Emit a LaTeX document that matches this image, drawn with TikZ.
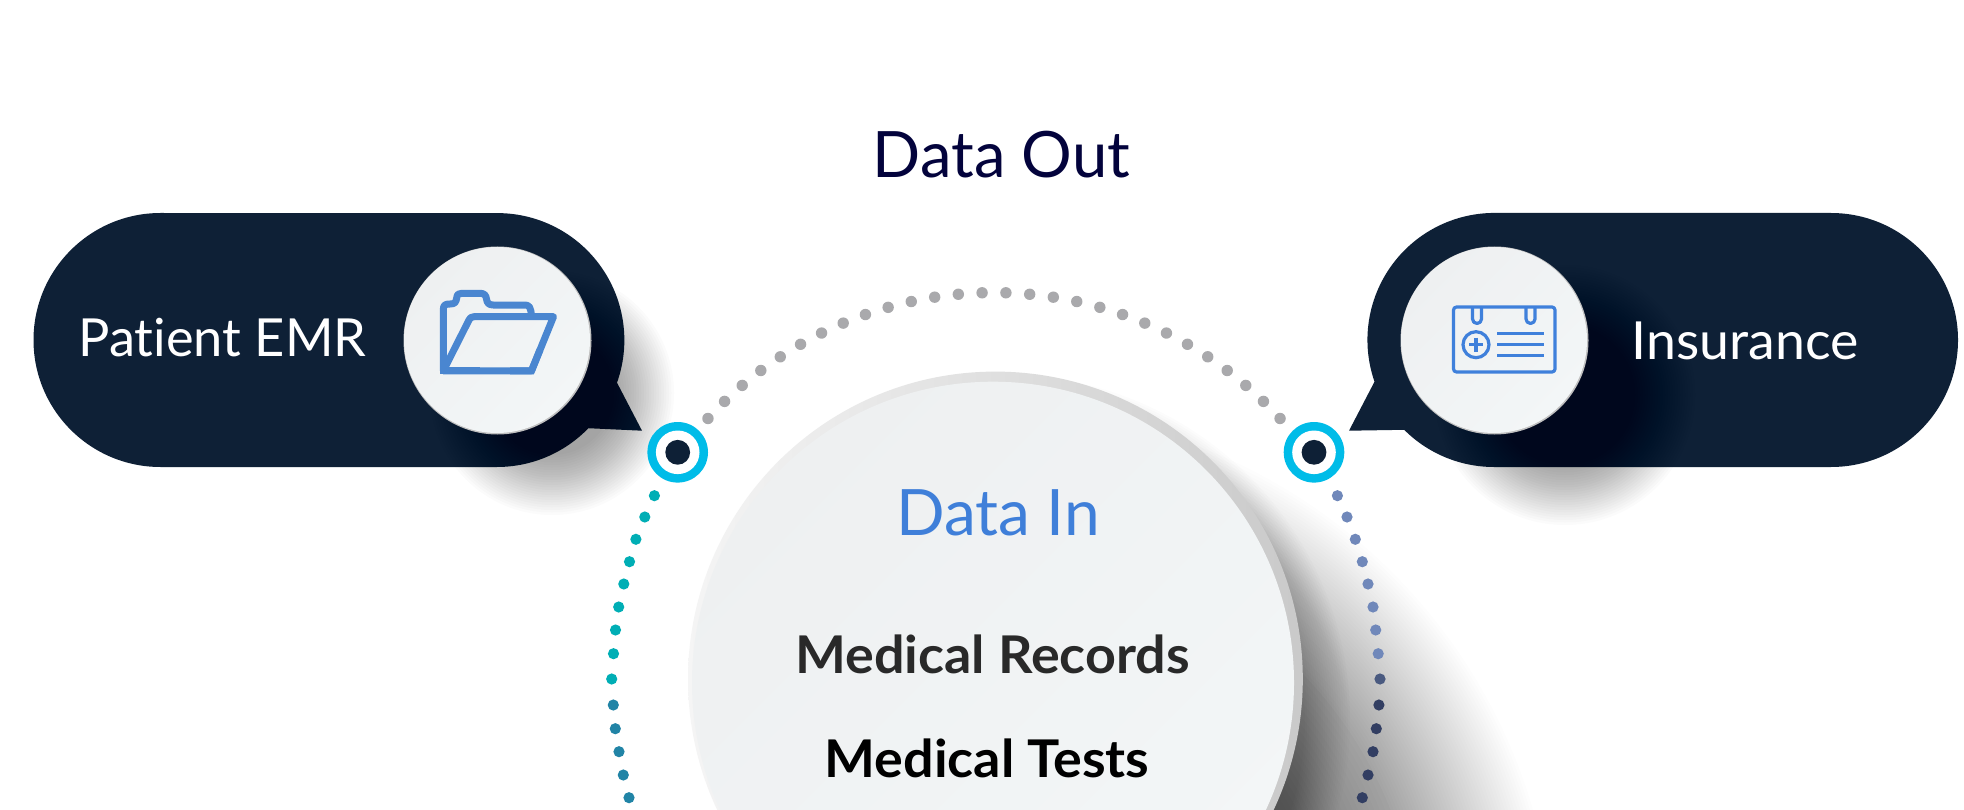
\documentclass[tikz,border=0pt]{standalone}
\usepackage{fontspec}
\setmainfont{Lato}[Ligatures={NoCommon,NoRare}]
\definecolor{navy}{HTML}{0E2036}
\definecolor{outcol}{HTML}{03033C}
\definecolor{incol}{HTML}{3F7FD9}
\definecolor{iconblue}{HTML}{4A86D0}
\definecolor{cardblue}{HTML}{3F80DB}
\definecolor{ringblue}{HTML}{00BCE8}
\definecolor{dotgray}{HTML}{A9A9AC}
\definecolor{tealA}{HTML}{00AEB5}
\definecolor{tealB}{HTML}{2184A6}
\definecolor{slateA}{HTML}{7088BA}
\definecolor{slateM}{HTML}{4A5A80}
\definecolor{slateB}{HTML}{323E62}
\definecolor{faceA}{HTML}{EEF0F1}
\definecolor{faceB}{HTML}{F3F6F7}
\newcommand{\softshadow}[6]{% cx cy Rout Rin steps opacity
  \foreach \k in {0,...,#5}{
    \fill[black,opacity=#6] (#1,#2) circle[radius={(#3-(#3-#4)*\k/#5)*1pt}];
  }}
\tikzset{
  label text/.style={inner sep=0pt,anchor=base,transform shape},
  bubble/.style={fill=navy},
  face/.style={left color=faceA,right color=faceB,shading angle=45},
  dotg/.style={fill=dotgray},
  folder/.style={draw=iconblue,line width=7pt,line join=round},
  card/.style={draw=cardblue,line width=3.2pt,line join=round}
}
\begin{document}
\begin{tikzpicture}[x=1pt,y=-1pt]
\useasboundingbox (0,0) rectangle (1964,810);
\clip (0,0) rectangle (1964,810);
\fill[white] (0,0) rectangle (1964,810);

% big circle shadow
\begin{scope}
\clip (1000,0) rectangle (1964,810);
\softshadow{1000}{965}{555}{420}{45}{0.0095}
\softshadow{1000}{965}{420}{320}{20}{0.011}
\softshadow{1005}{720}{345}{300}{20}{0.011}
\end{scope}

% bubbles
\fill[bubble] (160.5,213) arc[start angle=90,end angle=270,radius=127pt] -- (497,467)
  arc[start angle=270,end angle=316,radius=127pt]
  -- (642,430.7) -- (617,382.7)
  arc[start angle=-19.6,end angle=90,radius=127pt] -- cycle;
\fill[bubble] (1831,213) arc[start angle=90,end angle=-90,radius=127pt] -- (1494,467)
  arc[start angle=270,end angle=225,radius=127pt]
  -- (1349,430.7) -- (1374.5,381.7)
  arc[start angle=199.2,end angle=90,radius=127pt] -- cycle;

% small-circle shadows
\softshadow{552}{393}{122}{62}{24}{0.017}
\softshadow{1565}{395}{130}{70}{24}{0.015}

% small circles
\fill[black!25] (497.5,340.5) circle[radius=94pt];
\shade[face] (497,340) circle[radius=93pt];
\fill[black!25] (1494.5,340.5) circle[radius=94pt];
\shade[face] (1494,340) circle[radius=93pt];

% folder
\draw[folder] (443.3,370.8) -- (443.3,310) .. controls (443.3,305) and (445,304) .. (450,304)
  .. controls (455,304) and (456,302) .. (456.7,298) .. controls (457,294) and (459,293.3) .. (462,293.3)
  -- (480,293.3) .. controls (484,293.3) and (486,295) .. (486.5,299) .. controls (487,303) and (489,305) .. (493,305)
  -- (525,305) .. controls (529,305) and (531,307) .. (531.5,316.7);
\draw[folder] (443.3,370.8) -- (531.5,370.8) -- (553.5,316.7) -- (474,316.7) .. controls (471,316.7) and (470,318) .. (469,320) -- cycle;
\draw[folder,line join=miter] (443.3,350) -- (443.3,370.8) -- (480,370.8);
\draw[folder,line join=miter] (510,370.8) -- (531.5,370.8) -- (540,349.8);

% card
\draw[card,rounded corners=3pt] (1453.5,307) rectangle (1555,372);
\draw[card] (1472.5,307) -- (1472.5,319) arc[start angle=180,end angle=360,radius=4.5pt] -- (1481.5,307);
\draw[card] (1526,307) -- (1526,319) arc[start angle=180,end angle=360,radius=4.5pt] -- (1535,307);
\draw[card] (1476,344.7) circle[radius=13pt];
\draw[card] (1469,344.7) -- (1483,344.7) (1476,337.7) -- (1476,351.7);
\draw[card] (1497,333.7) -- (1544,333.7) (1497,344.7) -- (1544,344.7) (1497,355.7) -- (1544,355.7);

% big circle
\shade[left color=black!4,middle color=black!6,right color=black!21] (995.4,679) circle[radius=307.4pt];
\shade[face] (993,682.7) circle[radius=301pt];

% dots
\foreach \i in {0,...,27}{
  \pgfmathsetmacro\a{137.5-\i*3.5185}
  \fill[dotg] ({994+388*cos(\a)},{680.6-388*sin(\a)}) circle[radius=5.7pt];
}
\foreach \x/\y in {654.4/495.7,644.8/517,635.9/539.3,629.5/561.7,623.8/584,618.7/607,615.5/630,613.5/653.7,611.7/679}{
  \fill[tealA] (\x,\y) circle[radius=5.6pt];
}
\foreach \x/\y in {613.3/705,615.3/728.7,619/751.7,623.3/775,629/797.7}{
  \fill[tealB] (\x,\y) circle[radius=5.6pt];
}
\foreach \x/\y in {1337.4/495.7,1347/517,1355.3/539.3,1362.3/561.7,1368/584,1373/607,1375.7/630,1378.2/653.7}{
  \fill[slateA] (\x,\y) circle[radius=5.6pt];
}
\fill[slateM] (1380,679) circle[radius=5.6pt];
\foreach \x/\y in {1378.9/705,1376.3/728.7,1373/751.7,1368/775,1362.3/797.7}{
  \fill[slateB] (\x,\y) circle[radius=5.6pt];
}

% rings
\foreach \x in {677.7,1314}{
  \fill[ringblue] (\x,452.3) circle[radius=30.3pt];
  \fill[white] (\x,452.3) circle[radius=21.8pt];
  \fill[navy] (\x,452.3) circle[radius=12.4pt];
}

% text
\node[label text,xscale=0.99,text=outcol,font=\fontsize{64}{70}\selectfont] (out) at (1001.5,177.3) {Data Out};
\node[label text,xscale=0.997,text=white,font=\fontsize{52.5}{60}\selectfont] (emr) at (222.5,356) {Patient EMR};
\node[label text,xscale=1.022,text=white,font=\fontsize{52.5}{60}\selectfont] (ins) at (1745,359.3) {Insurance};
\node[label text,xscale=1.0,text=incol,font=\fontsize{64}{70}\selectfont] (din) at (998,535) {Data In};
\node[label text,xscale=1.036,text=black!84,font=\fontsize{52}{60}\selectfont\bfseries] (rec) at (992.5,673) {Medical Records};
\node[label text,xscale=1.036,text=black,font=\fontsize{52}{60}\selectfont\bfseries] (tst) at (987,777.7) {Medical Tests};
\end{tikzpicture}
\end{document}
